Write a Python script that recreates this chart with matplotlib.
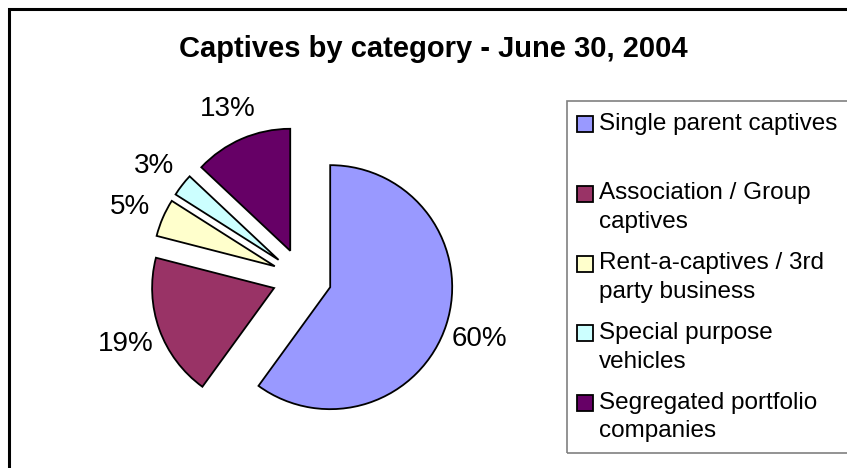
import matplotlib.pyplot as plt
from matplotlib.patches import Rectangle

plt.rcParams['font.family'] = ['Liberation Sans', 'DejaVu Sans']

title = "Captives by category - June 30, 2004"
categories = ["Single parent captives",
              "Association / Group\ncaptives",
              "Rent-a-captives / 3rd\nparty business",
              "Special purpose\nvehicles",
              "Segregated portfolio\ncompanies"]
shares = [60, 19, 5, 3, 13]
colors = ['#9999FF', '#993366', '#FFFFCC', '#CCFFFF', '#660066']

W, H = 847, 468
fig = plt.figure(figsize=(W / 100, H / 100), dpi=100)


def fx(x):
    return x / W


def fy(y):
    return 1 - y / H


# chart border (clipped at right / bottom like the original)
fig.patches.append(Rectangle((fx(9), fy(H + 20)), fx(W + 20), (H + 20 - 9) / H,
                             transform=fig.transFigure, fill=False,
                             edgecolor='black', linewidth=2.2))

fig.text(fx(433), fy(57), title, ha='center', va='baseline',
         fontsize=21, fontweight='bold')

# pie: centre (302, 278) px, radius 122 px
cx, cy, r = 302, 278, 122
ax = fig.add_axes([fx(cx - 2 * r), fy(cy + 2 * r), 4 * r / W, 4 * r / H])
wedges, texts, autotexts = ax.pie(
    shares, colors=colors, startangle=90, counterclock=False,
    explode=[0.243] * len(shares), autopct='%.0f%%', pctdistance=1.29,
    wedgeprops=dict(edgecolor='black', linewidth=1.3),
    textprops=dict(fontsize=20, color='black'))
ax.set_xlim(-2, 2)
ax.set_ylim(-2, 2)
ax.axis('off')
for t in autotexts:
    t.set_clip_on(False)
    t.set_va('center_baseline')

# legend, drawn Excel-style: swatch next to the first line of each entry
fig.patches.append(Rectangle((fx(567), fy(453)), fx(320), (453 - 101) / H,
                             transform=fig.transFigure, fill=False,
                             edgecolor='#808080', linewidth=1.2))
for i, (lab, c) in enumerate(zip(categories, colors)):
    base = 130 + 69.75 * i
    nlines = lab.count('\n') + 1
    fig.patches.append(Rectangle((fx(577), fy(base + 2)), fx(16), 16 / H,
                                 transform=fig.transFigure, facecolor=c,
                                 edgecolor='black', linewidth=1.3))
    # va='baseline' anchors the last line, so shift down by the extra lines
    fig.text(fx(599), fy(base + 28.5 * (nlines - 1)), lab, ha='left',
             va='baseline', fontsize=17.5, linespacing=1.4)

fig.savefig('out.png', dpi=100)
